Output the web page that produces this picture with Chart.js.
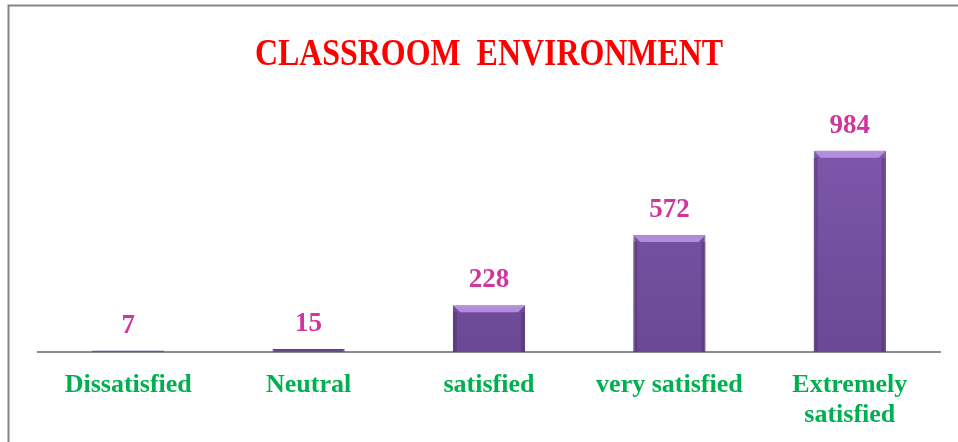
<!DOCTYPE html>
<html>
<head>
<meta charset="utf-8">
<script src="https://cdn.jsdelivr.net/npm/chart.js@4.4.0/dist/chart.umd.min.js"></script>
<style>
  html, body { margin: 0; padding: 0; background: #fff; }
  #wrap { position: relative; width: 958px; height: 442px; }
</style>
</head>
<body>
<div id="wrap"><canvas id="chart-bars" width="958" height="442"></canvas></div>
<script>
var chart_title = "CLASSROOM  ENVIRONMENT";
var categories = ["Dissatisfied", "Neutral", "satisfied", "very satisfied", ["Extremely", "satisfied"]];
var responses = [7, 15, 228, 572, 984];

// frame + title drawn on the canvas
var framePlugin = {
  id: 'frame',
  beforeDraw: function(chart){
    var ctx = chart.ctx;
    ctx.save();
    ctx.strokeStyle = '#858585';
    ctx.lineWidth = 2;
    ctx.beginPath();
    ctx.moveTo(8.5, 442);
    ctx.lineTo(8.5, 5.5);
    ctx.lineTo(958, 5.5);
    ctx.stroke();
    // title, squeezed a bit horizontally
    var cx = (chart.chartArea.left + chart.chartArea.right) / 2;
    ctx.translate(cx, 55);
    ctx.scale(0.84, 1);
    ctx.font = 'bold 38px "Liberation Serif"';
    ctx.fillStyle = '#ff0000';
    ctx.textAlign = 'center';
    ctx.textBaseline = 'middle';
    ctx.fillText(chart_title, 0, 0);
    ctx.restore();
  }
};

// bevel highlight on bars + value labels
var barLabelPlugin = {
  id: 'barLabels',
  afterDatasetsDraw: function(chart){
    var ctx = chart.ctx;
    var meta = chart.getDatasetMeta(0);
    ctx.save();
    meta.data.forEach(function(bar, i){
      var left = bar.x - bar.width / 2;
      var right = bar.x + bar.width / 2;
      var h = bar.base - bar.y;
      var bev = Math.min(7, h / 2);
      if (h > 4) {
        ctx.fillStyle = 'rgba(200,160,240,0.75)';
        ctx.beginPath();
        ctx.moveTo(left, bar.y);
        ctx.lineTo(right, bar.y);
        ctx.lineTo(right - bev, bar.y + bev);
        ctx.lineTo(left + bev, bar.y + bev);
        ctx.closePath();
        ctx.fill();
        ctx.fillStyle = 'rgba(70,40,100,0.35)';
        ctx.fillRect(left, bar.y + bev, 4, h - bev);
        ctx.fillRect(right - 4, bar.y + bev, 4, h - bev);
      }
      ctx.font = 'bold 27px "Liberation Serif"';
      ctx.fillStyle = '#d0359c';
      ctx.textAlign = 'center';
      ctx.textBaseline = 'middle';
      ctx.fillText(responses[i], bar.x, bar.y - 25);
    });
    ctx.restore();
  }
};

var ctx = document.getElementById("chart-bars").getContext("2d");
new Chart(ctx, {
  type: "bar",
  data: {
    labels: categories,
    datasets: [{
      label: "Responses",
      data: responses,
      backgroundColor: function(context){
        var area = context.chart.chartArea;
        if (!area) return '#7650a2';
        var g = context.chart.ctx.createLinearGradient(0, area.top, 0, area.bottom);
        g.addColorStop(0, '#8058ad');
        g.addColorStop(1, '#6b4894');
        return g;
      },
      borderColor: '#5e3f86',
      borderWidth: 1,
      borderSkipped: 'bottom',
      barPercentage: 0.4,
      categoryPercentage: 1.0
    }]
  },
  options: {
    responsive: false,
    animation: false,
    layout: {
      padding: { top: 127, left: 38, right: 18, bottom: 0 }
    },
    plugins: {
      legend: { display: false },
      title: { display: false },
      tooltip: { enabled: false }
    },
    scales: {
      y: {
        display: false,
        min: 0,
        max: 1100
      },
      x: {
        afterFit: function(scale){ scale.height = 90; },
        grid: {
          display: false,
          drawTicks: false
        },
        border: {
          display: true,
          color: '#8c8c8c',
          width: 2
        },
        ticks: {
          color: '#00b050',
          padding: 18,
          maxRotation: 0,
          autoSkip: false,
          font: {
            size: 26,
            weight: 'bold',
            family: "Liberation Serif",
            lineHeight: 1.15
          }
        }
      }
    }
  },
  plugins: [framePlugin, barLabelPlugin]
});
</script>
</body>
</html>
